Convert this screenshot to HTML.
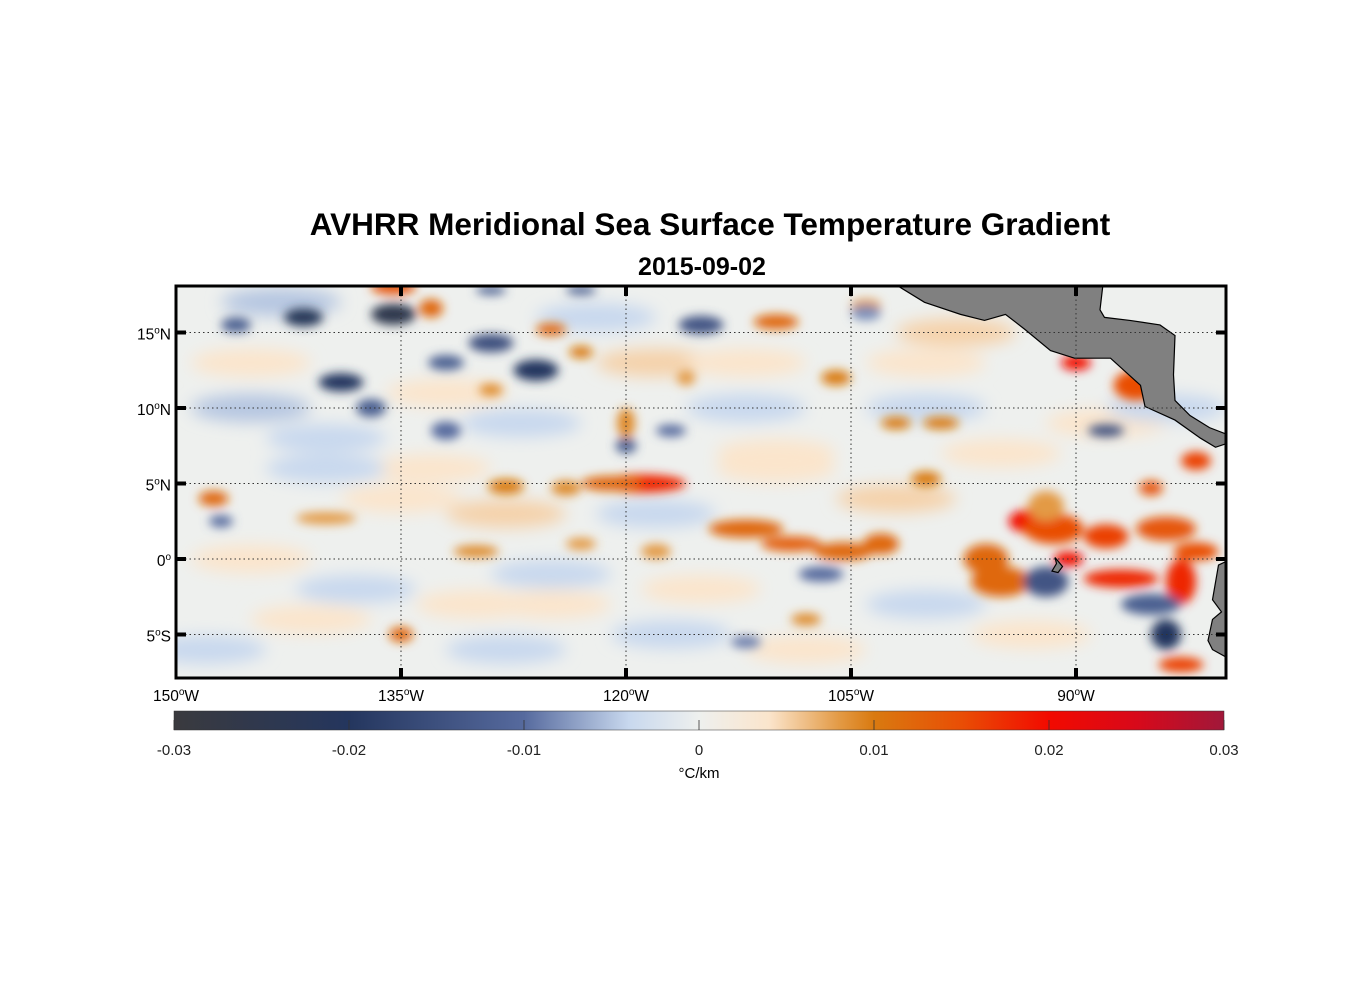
<!DOCTYPE html>
<html><head><meta charset="utf-8"><style>
body{margin:0;background:#fff;width:1356px;height:1000px;overflow:hidden;font-family:"Liberation Sans",sans-serif}
svg text{font-family:"Liberation Sans",sans-serif}
</style></head><body>
<svg id="chart" width="1356" height="1000">
<defs>
<filter id="blur" x="-20%" y="-20%" width="140%" height="140%"><feGaussianBlur stdDeviation="5"/></filter>
<filter id="blur2" x="-20%" y="-20%" width="140%" height="140%"><feGaussianBlur stdDeviation="8"/></filter>
<clipPath id="mapclip"><rect x="176" y="286" width="1050" height="392"/></clipPath>
<linearGradient id="cbgrad" x1="0" x2="1" y1="0" y2="0"></linearGradient>
</defs>
<text x="710" y="235" text-anchor="middle" font-size="31.5" font-weight="bold">AVHRR Meridional Sea Surface Temperature Gradient</text>
<text x="702" y="275" text-anchor="middle" font-size="25" font-weight="bold">2015-09-02</text>
<g clip-path="url(#mapclip)">
<rect x="176" y="286" width="1050" height="392" fill="#eef0ee"/>
<g id="faint" filter="url(#blur2)"></g>
<g id="blobs" filter="url(#blur)"></g>
<g id="land"></g>
<g id="grid"></g>
</g>
<rect x="176" y="286" width="1050" height="392" fill="none" stroke="#000" stroke-width="3"/>
<g id="ticks"></g>
<rect x="174" y="711" width="1050" height="19" fill="url(#cbgrad)" stroke="#333" stroke-width="0.5"/>
<g id="cbticks"></g>
<text x="699" y="778" text-anchor="middle" font-size="15">°C/km</text>
</svg>
<script>
const lonTicks=[-150,-135,-120,-105,-90];
const latTicks=[15,10,5,0,-5];
const cbTicks=[-0.03,-0.02,-0.01,0,0.01,0.02,0.03];
const cbTickLabels=["-0.03","-0.02","-0.01","0","0.01","0.02","0.03"];
const blobLon=[-119,-121,-128,-124,-112,-109,-105.5,-103,-96,-93,-91.5,-88,-87,-83,-84,-82,-95,-90.5,-92,-85,-100,-99,-106,-110,-104,-133,-125,-123,-135.5,-129,-147.5,-140,-135,-83,-90,-86,-102,-82,-120,-116,-108,-130,-123,-118,
 -141.5,-135.5,-139,-126,-129,-132,-146,-137,-132,-120,-117,-115,-104,-88,-92,-85,-84,-107,-147,-112,-123,-129];
const blobLat=[5,5,4.8,4.7,2,1,0.5,1,0,2.5,2,1.5,-1.3,-1.5,2,0.5,-1.5,0,3.5,4.7,5.3,9,12,15.7,16.8,16.6,15.2,13.7,18,11.2,4,2.7,-5,-7,13,11.5,9,6.5,9,12,-4,0.5,1,0.5,
 16,16.2,11.7,12.5,14.3,13,15.5,10,8.5,7.5,8.5,15.5,16.3,8.5,-1.5,-3,-5,-1,2.5,-5.5,17.8,17.8];
const blobVal=[0.018,0.012,0.01,0.009,0.012,0.013,0.012,0.012,0.012,0.02,0.015,0.016,0.018,0.018,0.014,0.015,0.012,0.02,0.008,0.014,0.01,0.01,0.01,0.012,0.008,0.012,0.012,0.01,0.014,0.009,0.012,0.008,0.012,0.016,0.02,0.015,0.01,0.016,0.009,0.008,0.009,0.009,0.008,0.008,
 -0.022,-0.025,-0.02,-0.02,-0.015,-0.012,-0.012,-0.012,-0.01,-0.012,-0.01,-0.014,-0.008,-0.015,-0.014,-0.012,-0.02,-0.01,-0.01,-0.009,-0.012,-0.012];
const blobRx=[3,2,1.2,1,2.5,2,2,1.2,1.5,1.5,2,1.5,2.5,1,2,1.5,2,1,1.2,0.8,1,1.2,1,1.5,1,0.8,1,0.8,1.5,0.8,1,2,0.8,1.5,1,1.5,1,1,0.6,0.6,1,1.5,1,1,
 1.3,1.5,1.5,1.5,1.5,1.2,1,1,1,0.7,1,1.5,1,1.2,1.5,2,1,1.5,0.8,1,1,1];
const blobRy=[0.6,0.5,0.5,0.5,0.6,0.5,0.6,0.7,1,0.8,1,0.8,0.6,1.5,0.8,0.6,1,0.5,1,0.5,0.5,0.4,0.5,0.5,0.4,0.6,0.4,0.4,0.5,0.4,0.5,0.4,0.5,0.5,0.5,1,0.4,0.6,1,0.5,0.4,0.4,0.4,0.5,
 0.6,0.7,0.6,0.7,0.6,0.5,0.5,0.6,0.6,0.5,0.4,0.6,0.5,0.4,1,0.7,1,0.5,0.4,0.4,0.3,0.3];
const faintLon=[-145,-140,-133,-127,-118,-112,-100,-95,-145,-138,-130,-125,-115,-108,-100,-93,-148,-141,-128,-117,-110,-102,-145,-135,-128,-118,-110,-100,-143,-132,-122,-112,-98,-88,-84,-140,-125];
const faintLat=[13,8,6,9,13,10,13,7,0,-2,-3,-1,-2,-6,-3,-5,-6,-4,-6,-5,7,4,10,4,3,3,6,10,17,11,16,13,15,9,10,6,-3];
const faintVal=[0.004,-0.004,0.004,-0.004,0.005,-0.004,0.004,0.004,0.004,-0.004,0.004,-0.004,0.004,0.004,-0.004,0.004,-0.004,0.004,-0.004,-0.004,0.004,0.005,-0.005,0.004,0.005,-0.004,0.004,-0.004,-0.005,0.004,-0.004,0.004,0.005,0.004,-0.004,-0.004,0.004];
const cmapV=[-0.03,-0.02,-0.01,-0.004,0,0.004,0.008,0.01,0.015,0.02,0.025,0.03];
const cmapC=["#3a3a3e","#24365e","#566a9e","#c8d8ee","#eef0ee","#fbe5cc","#e39a45","#d97a10","#e94e05","#f20a00","#d8091a","#a0183a"];
const landCA=[[-101.9,18.1],[-100.1,17],[-97.7,16.2],[-96.1,15.8],[-94.7,16.2],[-93.4,15.2],[-91.7,13.8],[-90.1,13.3],[-87.7,13.3],[-85.7,11.5],[-85.4,10.1],[-83.4,9.2],[-81.7,8],[-80.7,7.4],[-79.8,7.7],[-79.8,8.2],[-81.1,8.7],[-82.4,9.5],[-83.4,10.5],[-83.5,12.2],[-83.4,14.8],[-84.4,15.5],[-86.4,15.8],[-88.1,16],[-88.4,16.5],[-88.2,18.2]];
const landSA=[[-79.8,-0.07],[-80.5,-0.4],[-80.9,-2.7],[-80.3,-3.5],[-80.9,-4],[-81.2,-5.4],[-80.9,-6],[-79.8,-6.6]];
const landGal=[[-91.4,0.1],[-90.9,-0.5],[-91.2,-0.9],[-91.6,-0.8],[-91.3,-0.3]];

const NS='http://www.w3.org/2000/svg';
const xS=lon=>176+(lon+150)*15;
const yS=lat=>559-lat*15.1;
const cbX=v=>174+(v+0.03)/0.06*1050;
function hex(c){return [1,3,5].map(i=>parseInt(c.substr(i,2),16));}
function cmap(v){
 if(v<=cmapV[0])return cmapC[0];
 for(let i=1;i<cmapV.length;i++){if(v<=cmapV[i]){const t=(v-cmapV[i-1])/(cmapV[i]-cmapV[i-1]);const a=hex(cmapC[i-1]),b=hex(cmapC[i]);return 'rgb('+a.map((x,k)=>Math.round(x+(b[k]-x)*t)).join(',')+')';}}
 return cmapC[cmapC.length-1];
}
function mk(tag,attrs,parent){const e=document.createElementNS(NS,tag);for(const k in attrs)e.setAttribute(k,attrs[k]);parent.appendChild(e);return e;}
const fg=document.getElementById('faint');
for(let i=0;i<faintLon.length;i++){
 const e=mk('ellipse',{cx:xS(faintLon[i]),cy:yS(faintLat[i]),rx:60,ry:14,fill:cmap(faintVal[i])},fg);
 
 
}
const g=document.getElementById('blobs');
for(let i=0;i<blobLon.length;i++){
 const e=mk('ellipse',{cx:xS(blobLon[i]),cy:yS(blobLat[i]),rx:blobRx[i]*15,ry:blobRy[i]*15.1,fill:cmap(blobVal[i])},g);
 
 
}
const land=document.getElementById('land');
[landCA,landSA,landGal].forEach((p,i)=>{
 let pts=p.map(q=>xS(q[0])+','+yS(q[1]));
 if(i==1)pts=pts.concat([xS(-78)+','+yS(-7),xS(-78)+','+yS(0)]);
 if(i==0)pts=pts.concat([xS(-88.2)+','+yS(19),xS(-102)+','+yS(19)]);
 const e=mk('polygon',{points:pts.join(' '),fill:'#808080',stroke:'#000','stroke-width':1.2},land);
 
 
});
const grid=document.getElementById('grid'),ticks=document.getElementById('ticks');
lonTicks.forEach(l=>{
 const x=xS(l);
 if(l>-150){const e=mk('line',{x1:x,x2:x,y1:286,y2:678,stroke:'#333','stroke-width':1,'stroke-dasharray':'1.5,3'},grid);
 
 mk('line',{x1:x,x2:x,y1:286,y2:296,stroke:'#000','stroke-width':4},ticks);
 mk('line',{x1:x,x2:x,y1:668,y2:678,stroke:'#000','stroke-width':4},ticks);}
 const t=mk('text',{x:x,y:701,'text-anchor':'middle','font-size':15.5},ticks);
 t.innerHTML=(-l)+'<tspan dy="-6" font-size="10">o</tspan><tspan dy="6">W</tspan>';
 
});
latTicks.forEach(l=>{
 const y=yS(l);
 const e=mk('line',{x1:176,x2:1226,y1:y,y2:y,stroke:'#333','stroke-width':1,'stroke-dasharray':'1.5,3'},grid);
 
 mk('line',{x1:176,x2:186,y1:y,y2:y,stroke:'#000','stroke-width':4},ticks);
 mk('line',{x1:1216,x2:1226,y1:y,y2:y,stroke:'#000','stroke-width':4},ticks);
 const t=mk('text',{x:171,y:y+7,'text-anchor':'end','font-size':15.5},ticks);
 const h=l>0?'N':l<0?'S':'';
 t.innerHTML=Math.abs(l)+'<tspan dy="-6" font-size="10">o</tspan><tspan dy="6">'+h+'</tspan>';
 
});
const grad=document.getElementById('cbgrad');
cmapV.forEach((v,i)=>mk('stop',{offset:((v+0.03)/0.06*100)+'%','stop-color':cmapC[i]},grad));
const cbt=document.getElementById('cbticks');
cbTicks.forEach((v,i)=>{
 const x=cbX(v);
 mk('line',{x1:x,x2:x,y1:720,y2:730,stroke:'#333','stroke-width':0.8},cbt);
 const t=mk('text',{x:x,y:755,'text-anchor':'middle','font-size':15,fill:'#222'},cbt);
 t.textContent=cbTickLabels[i];
 
});
</script>
</body></html>
